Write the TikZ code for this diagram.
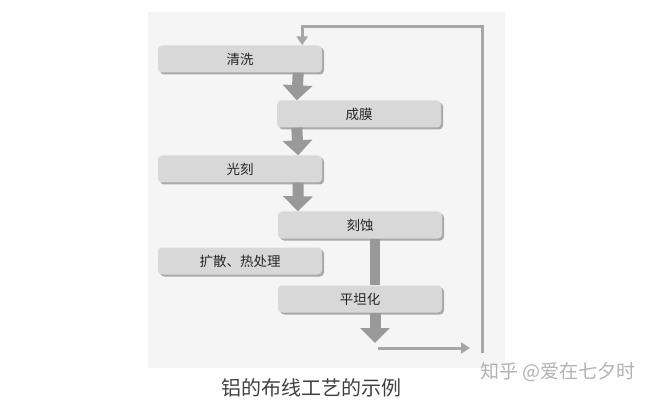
\documentclass[tikz,border=0pt]{standalone}
\usepackage{fontspec}
\setmainfont{Noto Sans CJK SC}
\usepackage{xcolor}
\usetikzlibrary{
    arrows.meta,
    shadows,
    positioning
}
\definecolor{boxgray}{HTML}{D8D8D8}
\definecolor{shadegray}{HTML}{A9A9A9}
\definecolor{arrowgray}{HTML}{999999}
\definecolor{loopgray}{HTML}{A6A6A6}

\begin{document}
\begin{tikzpicture}[x=1pt, y=-1pt,
    procbox/.style={rounded corners=4pt, fill=boxgray, minimum width=164pt, minimum height=27pt,
        inner sep=0pt, text=black!85, font=\fontsize{13.5}{15}\selectfont,
        drop shadow={shadow xshift=2pt, shadow yshift=-2pt, fill=shadegray, opacity=1}},
    bigarrow/.style={draw=arrowgray, line width=11pt, -{Triangle[length=15pt, width=29pt]}},
    thinarrow/.style={draw=loopgray, line width=3pt, -{Triangle[length=9pt, width=11pt]}}]
    \useasboundingbox (0,0) rectangle (655,403);
    \fill[black!4] (148,12) rectangle (505,368);
    % steps
    \node[procbox] (qingxi) at (240,59) {清洗};
    \node[procbox] (chengmo) at (359,114) {成膜};
    \node[procbox] (guangke) at (240,169) {光刻};
    \node[procbox] (keshi) at (360,225) {刻蚀};
    \node[procbox] (kuosan) at (240,261) {扩散、热处理};
    \node[procbox] (pingtan) at (360,299) {平坦化};
    % flow
    \draw[bigarrow] ([xshift=-24pt]qingxi.south east) -- ([xshift=20pt]chengmo.north west);
    \draw[bigarrow] ([xshift=20pt]chengmo.south west) -- ([xshift=-24pt]guangke.north east);
    \draw[bigarrow] ([xshift=-24pt]guangke.south east) -- ([xshift=20pt]keshi.north west);
    \draw[arrowgray, line width=10pt] ([xshift=15pt]keshi.south) -- ([xshift=15pt]pingtan.north);
    \coordinate (flatend) at (375,343);
    \draw[bigarrow] ([xshift=15pt]pingtan.south) -- (flatend);
    % loop back
    \coordinate (loopstart) at (378,348);
    \coordinate (loopend) at (470,348);
    \coordinate (loopbottom) at (482,353);
    \coordinate (looptop) at (482,27);
    \draw[thinarrow] (loopstart) -- (loopend);
    \draw[thinarrow, line join=miter] (loopbottom) -- (looptop) -| ([xshift=-20pt]qingxi.north east);
    % captions
    \node[text=black!75, font=\fontsize{20}{22}\selectfont] (caption) at (311,388) {铝的布线工艺的示例};
    \node[text=black!30, font=\fontsize{19}{21}\selectfont] (mark) at (558,372) {知乎 @爱在七夕时};
\end{tikzpicture}
\end{document}
